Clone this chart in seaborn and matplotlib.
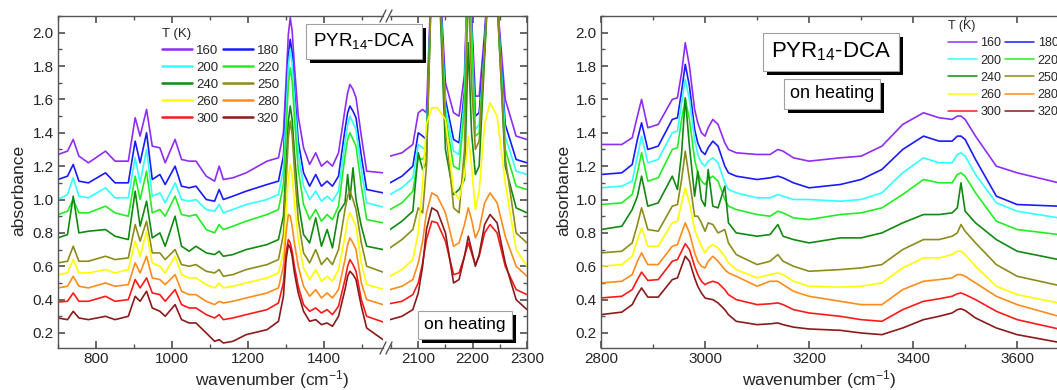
import matplotlib
matplotlib.use("Agg")
import matplotlib.pyplot as plt
from matplotlib.lines import Line2D
from matplotlib.patches import Rectangle
from matplotlib.ticker import MultipleLocator, FormatStrFormatter
from matplotlib.transforms import IdentityTransform
import pandas as pd
import seaborn as sns


TEMPS = ["160", "180", "200", "220", "240", "250", "260", "280", "300", "320"]
COLORS = ["#8f2cf5", "#1a1aff", "#33ffff", "#22ee22", "#118a11",
          "#8c8c1a", "#ffff00", "#ff8c1a", "#ff1a1a", "#8b1a1a"]

# fingerprint region, 700-1555 cm-1
FP_WN = [700, 725, 740, 755, 780, 825, 850, 885, 903, 916, 933, 948,
         968, 982, 1008, 1025, 1045, 1063, 1090, 1112, 1124, 1135, 1160, 1195,
         1250, 1280, 1293, 1300, 1306, 1311, 1316, 1322, 1332, 1346, 1362, 1378,
         1393, 1408, 1422, 1438, 1455, 1462, 1468, 1476, 1484, 1498, 1512, 1555]

FP_160 = [1.27, 1.29, 1.36, 1.26, 1.22, 1.29, 1.23, 1.23, 1.49, 1.38, 1.54, 1.32,
          1.31, 1.22, 1.36, 1.24, 1.23, 1.23, 1.14, 1.11, 1.20, 1.12, 1.13, 1.16,
          1.23, 1.25, 1.40, 1.71, 1.99, 2.09, 2.01, 1.80, 1.50, 1.31, 1.21, 1.28,
          1.20, 1.23, 1.20, 1.28, 1.54, 1.64, 1.69, 1.66, 1.61, 1.38, 1.17, 1.16]
FP_180 = [1.12, 1.14, 1.21, 1.11, 1.10, 1.16, 1.10, 1.10, 1.35, 1.22, 1.40, 1.12,
          1.15, 1.09, 1.20, 1.08, 1.07, 1.08, 1.00, 0.99, 1.06, 1.00, 1.02, 1.05,
          1.09, 1.11, 1.26, 1.58, 1.86, 1.96, 1.88, 1.66, 1.35, 1.16, 1.08, 1.15,
          1.08, 1.11, 1.08, 1.14, 1.42, 1.52, 1.56, 1.53, 1.49, 1.26, 1.06, 1.04]
FP_200 = [1.00, 1.03, 1.13, 1.02, 1.01, 1.07, 1.01, 1.01, 1.25, 1.10, 1.30, 1.02,
          1.04, 0.98, 1.10, 1.00, 0.99, 1.00, 0.94, 0.93, 0.97, 0.92, 0.94, 0.97,
          1.00, 1.03, 1.18, 1.50, 1.80, 1.90, 1.82, 1.60, 1.28, 1.08, 1.00, 1.05,
          0.99, 1.02, 0.99, 1.05, 1.34, 1.45, 1.50, 1.46, 1.42, 1.18, 0.98, 0.955]
FP_220 = [0.91, 0.93, 1.00, 0.92, 0.92, 0.96, 0.92, 0.90, 1.14, 1.00, 1.17, 0.92,
          0.94, 0.90, 1.02, 0.91, 0.90, 0.91, 0.82, 0.80, 0.85, 0.82, 0.84, 0.87,
          0.91, 0.94, 1.09, 1.41, 1.69, 1.79, 1.71, 1.49, 1.18, 0.97, 0.88, 0.94,
          0.87, 0.91, 0.88, 0.96, 1.26, 1.36, 1.40, 1.36, 1.32, 1.08, 0.88, 0.86]
FP_240 = [0.77, 0.79, 1.02, 0.80, 0.81, 0.82, 0.78, 0.76, 1.05, 0.84, 0.99, 0.77,
          0.80, 0.72, 0.90, 0.72, 0.69, 0.72, 0.68, 0.67, 0.69, 0.66, 0.67, 0.70,
          0.73, 0.76, 0.90, 1.20, 1.47, 1.56, 1.48, 1.28, 0.99, 0.79, 0.74, 0.89,
          0.72, 0.82, 0.71, 0.92, 0.98, 1.15, 1.00, 1.19, 1.00, 0.84, 0.72, 0.70]
FP_250 = [0.62, 0.63, 0.72, 0.63, 0.63, 0.66, 0.64, 0.65, 0.85, 0.75, 0.87, 0.68,
          0.68, 0.64, 0.70, 0.61, 0.60, 0.61, 0.57, 0.56, 0.58, 0.54, 0.55, 0.58,
          0.61, 0.64, 0.79, 1.10, 1.37, 1.47, 1.39, 1.18, 0.88, 0.68, 0.62, 0.70,
          0.61, 0.65, 0.61, 0.70, 0.94, 1.02, 1.05, 1.00, 0.94, 0.74, 0.60, 0.565]
FP_260 = [0.55, 0.56, 0.64, 0.56, 0.56, 0.58, 0.56, 0.58, 0.75, 0.66, 0.81, 0.62,
          0.60, 0.56, 0.66, 0.55, 0.53, 0.53, 0.49, 0.47, 0.50, 0.47, 0.48, 0.50,
          0.53, 0.56, 0.68, 0.92, 1.13, 1.21, 1.15, 0.98, 0.76, 0.59, 0.52, 0.58,
          0.51, 0.54, 0.51, 0.58, 0.78, 0.88, 0.92, 0.88, 0.84, 0.62, 0.49, 0.463]
FP_280 = [0.47, 0.48, 0.54, 0.48, 0.47, 0.50, 0.48, 0.49, 0.62, 0.56, 0.66, 0.53,
          0.52, 0.49, 0.55, 0.45, 0.43, 0.43, 0.39, 0.37, 0.39, 0.38, 0.39, 0.41,
          0.44, 0.47, 0.60, 0.80, 0.91, 0.90, 0.84, 0.74, 0.60, 0.48, 0.42, 0.46,
          0.41, 0.44, 0.41, 0.46, 0.64, 0.73, 0.77, 0.74, 0.70, 0.50, 0.40, 0.37]
FP_300 = [0.385, 0.39, 0.44, 0.39, 0.39, 0.42, 0.39, 0.40, 0.52, 0.47, 0.53, 0.44,
          0.43, 0.39, 0.46, 0.37, 0.35, 0.35, 0.31, 0.29, 0.31, 0.28, 0.29, 0.31,
          0.34, 0.38, 0.50, 0.68, 0.76, 0.74, 0.69, 0.60, 0.48, 0.37, 0.33, 0.35,
          0.32, 0.34, 0.31, 0.36, 0.52, 0.60, 0.64, 0.61, 0.57, 0.40, 0.30, 0.266]
FP_320 = [0.29, 0.28, 0.33, 0.29, 0.28, 0.30, 0.28, 0.30, 0.42, 0.39, 0.45, 0.35,
          0.33, 0.30, 0.37, 0.28, 0.26, 0.26, 0.20, 0.15, 0.16, 0.14, 0.15, 0.19,
          0.22, 0.27, 0.42, 0.64, 0.73, 0.71, 0.66, 0.56, 0.44, 0.33, 0.27, 0.28,
          0.25, 0.26, 0.24, 0.30, 0.46, 0.54, 0.57, 0.55, 0.52, 0.36, 0.23, 0.16]

# CN stretching region, 2048-2300 cm-1 (values above 2.1 run off the top)
CN_WN = [2048, 2070, 2090, 2100, 2108, 2115, 2125, 2135, 2150, 2165, 2175,
         2185, 2192, 2198, 2205, 2212, 2222, 2232, 2245, 2260, 2280, 2300]

CN_160 = [1.26, 1.28, 1.33, 1.52, 1.54, 1.52, 2.40, 2.60, 1.70, 1.52, 1.50,
          1.75, 2.50, 2.10, 1.62, 1.62, 2.00, 2.50, 2.20, 1.60, 1.38, 1.36]
CN_180 = [1.10, 1.14, 1.20, 1.40, 1.38, 1.36, 2.40, 2.60, 1.60, 1.36, 1.34,
          1.65, 2.50, 2.05, 1.50, 1.52, 1.95, 2.50, 2.20, 1.45, 1.24, 1.22]
CN_200 = [1.03, 1.07, 1.13, 1.33, 1.31, 1.30, 2.40, 2.60, 1.55, 1.29, 1.27,
          1.60, 2.50, 2.00, 1.42, 1.45, 1.90, 2.50, 2.20, 1.38, 1.17, 1.15]
CN_220 = [0.94, 0.98, 1.05, 1.25, 1.24, 1.28, 2.40, 2.60, 1.50, 1.20, 1.18,
          1.55, 2.50, 2.00, 1.38, 1.40, 1.90, 2.50, 2.20, 1.30, 1.08, 1.06]
CN_240 = [0.82, 0.87, 0.93, 1.28, 1.18, 1.22, 2.40, 2.60, 1.30, 1.03, 1.06,
          1.12, 1.94, 1.40, 1.15, 1.20, 1.85, 2.50, 2.20, 1.20, 0.95, 0.92]
CN_250 = [0.71, 0.76, 0.82, 0.95, 0.92, 1.20, 2.40, 2.60, 1.45, 0.95, 0.92,
          1.30, 2.30, 1.70, 1.30, 1.35, 1.90, 2.50, 2.20, 1.25, 0.80, 0.74]
CN_260 = [0.54, 0.58, 0.64, 0.80, 1.10, 1.45, 1.55, 1.55, 1.48, 1.05, 1.00,
          1.15, 1.38, 1.20, 0.94, 1.05, 1.45, 1.58, 1.50, 1.10, 0.70, 0.60]
CN_280 = [0.46, 0.48, 0.52, 0.62, 0.75, 0.92, 1.04, 1.02, 0.92, 0.72, 0.74,
          0.85, 0.95, 0.88, 0.77, 0.82, 0.98, 1.04, 0.98, 0.78, 0.60, 0.54]
CN_300 = [0.376, 0.39, 0.43, 0.50, 0.62, 0.76, 0.87, 0.86, 0.75, 0.55, 0.56,
          0.66, 0.74, 0.68, 0.61, 0.66, 0.80, 0.85, 0.80, 0.60, 0.46, 0.43]
CN_320 = [0.28, 0.30, 0.34, 0.44, 0.60, 0.82, 0.95, 0.93, 0.80, 0.50, 0.52,
          0.66, 0.78, 0.70, 0.60, 0.67, 0.85, 0.91, 0.86, 0.62, 0.40, 0.34]

# CH / NH stretching region, 2800-3680 cm-1
CH_WN = [2800, 2840, 2860, 2870, 2878, 2890, 2910, 2937, 2947, 2955, 2962, 2970, 2980, 2986,
         2993, 3000, 3006, 3015, 3025, 3038, 3045, 3060, 3100, 3125, 3140, 3150, 3170, 3200,
         3260, 3300, 3340, 3380, 3420, 3450, 3475, 3485, 3492, 3500, 3520, 3560, 3600, 3680]

CH_160 = [1.33, 1.33, 1.37, 1.50, 1.60, 1.43, 1.45, 1.60, 1.61, 1.76, 1.94, 1.80, 1.54, 1.46,
          1.40, 1.38, 1.43, 1.48, 1.45, 1.34, 1.30, 1.28, 1.27, 1.27, 1.30, 1.29, 1.25, 1.23,
          1.25, 1.26, 1.32, 1.45, 1.52, 1.49, 1.48, 1.50, 1.50, 1.48, 1.38, 1.20, 1.16, 1.10]
CH_180 = [1.15, 1.16, 1.21, 1.36, 1.46, 1.30, 1.32, 1.48, 1.49, 1.65, 1.81, 1.68, 1.42, 1.34,
          1.29, 1.27, 1.31, 1.35, 1.32, 1.20, 1.16, 1.14, 1.12, 1.13, 1.14, 1.13, 1.10, 1.07,
          1.09, 1.12, 1.18, 1.30, 1.38, 1.35, 1.35, 1.38, 1.38, 1.36, 1.24, 1.02, 0.97, 0.96]
CH_200 = [1.07, 1.08, 1.11, 1.26, 1.38, 1.22, 1.24, 1.40, 1.41, 1.58, 1.72, 1.60, 1.36, 1.27,
          1.22, 1.20, 1.23, 1.25, 1.22, 1.10, 1.06, 1.04, 1.01, 1.01, 1.03, 1.02, 1.00, 1.00,
          0.99, 1.00, 1.04, 1.16, 1.25, 1.22, 1.22, 1.27, 1.28, 1.26, 1.15, 0.98, 0.93, 0.89]
CH_220 = [0.97, 0.98, 1.03, 1.16, 1.28, 1.11, 1.13, 1.30, 1.31, 1.48, 1.60, 1.48, 1.24, 1.16,
          1.11, 1.09, 1.12, 1.14, 1.11, 1.00, 0.96, 0.94, 0.91, 0.90, 0.93, 0.92, 0.89, 0.88,
          0.91, 0.92, 0.95, 1.03, 1.12, 1.10, 1.10, 1.15, 1.16, 1.14, 1.04, 0.87, 0.82, 0.79]
CH_240 = [0.82, 0.84, 0.94, 1.02, 1.14, 0.96, 0.98, 1.14, 1.06, 1.28, 1.61, 1.32, 1.02, 1.17,
          1.00, 0.96, 1.18, 0.96, 0.95, 1.08, 0.86, 0.80, 0.78, 0.79, 0.85, 0.78, 0.76, 0.74,
          0.77, 0.77, 0.80, 0.86, 0.91, 0.91, 0.92, 0.95, 1.10, 0.93, 0.86, 0.76, 0.69, 0.64]
CH_250 = [0.68, 0.69, 0.74, 0.85, 0.95, 0.82, 0.81, 0.96, 0.97, 1.12, 1.29, 1.12, 0.90, 0.90,
          0.86, 0.81, 0.86, 0.85, 0.80, 0.82, 0.74, 0.67, 0.61, 0.63, 0.67, 0.63, 0.60, 0.57,
          0.58, 0.59, 0.61, 0.70, 0.76, 0.76, 0.78, 0.80, 0.85, 0.81, 0.74, 0.61, 0.54, 0.485]
CH_260 = [0.60, 0.61, 0.66, 0.76, 0.83, 0.72, 0.72, 0.86, 0.87, 0.98, 1.07, 0.98, 0.82, 0.77,
          0.72, 0.68, 0.71, 0.73, 0.71, 0.66, 0.62, 0.58, 0.53, 0.55, 0.56, 0.55, 0.51, 0.48,
          0.475, 0.48, 0.50, 0.59, 0.65, 0.65, 0.67, 0.69, 0.69, 0.67, 0.60, 0.48, 0.43, 0.38]
CH_280 = [0.50, 0.51, 0.55, 0.63, 0.68, 0.61, 0.61, 0.72, 0.73, 0.80, 0.86, 0.80, 0.68, 0.63,
          0.60, 0.59, 0.63, 0.66, 0.63, 0.58, 0.56, 0.54, 0.48, 0.51, 0.51, 0.49, 0.45, 0.42,
          0.39, 0.37, 0.37, 0.46, 0.51, 0.52, 0.53, 0.55, 0.55, 0.54, 0.50, 0.42, 0.37, 0.30]
CH_300 = [0.41, 0.42, 0.46, 0.52, 0.565, 0.515, 0.52, 0.63, 0.64, 0.69, 0.735, 0.70, 0.60, 0.55,
          0.51, 0.49, 0.50, 0.51, 0.50, 0.46, 0.43, 0.40, 0.37, 0.375, 0.38, 0.37, 0.34, 0.32,
          0.30, 0.28, 0.27, 0.34, 0.39, 0.405, 0.42, 0.435, 0.44, 0.43, 0.40, 0.33, 0.28, 0.224]
CH_320 = [0.31, 0.325, 0.37, 0.43, 0.47, 0.415, 0.415, 0.52, 0.53, 0.60, 0.66, 0.63, 0.53, 0.48,
          0.44, 0.41, 0.405, 0.40, 0.38, 0.34, 0.31, 0.27, 0.25, 0.255, 0.26, 0.25, 0.235, 0.224,
          0.216, 0.20, 0.19, 0.23, 0.28, 0.30, 0.32, 0.34, 0.345, 0.335, 0.29, 0.23, 0.19, 0.144]

FP = [FP_160, FP_180, FP_200, FP_220, FP_240, FP_250, FP_260, FP_280, FP_300, FP_320]
CN = [CN_160, CN_180, CN_200, CN_220, CN_240, CN_250, CN_260, CN_280, CN_300, CN_320]
CH = [CH_160, CH_180, CH_200, CH_220, CH_240, CH_250, CH_260, CH_280, CH_300, CH_320]

W, H = 1057, 390
PALETTE = dict(zip(TEMPS, COLORS))
AX_COLOR = "#555555"


def long_frame(wn, series):
    parts = []
    for t, vals in zip(TEMPS, series):
        parts.append(pd.DataFrame({"wn": wn, "absorbance": vals, "T": t}))
    return pd.concat(parts, ignore_index=True)


def draw(ax, wn, series):
    sns.lineplot(
        data=long_frame(wn, series),
        x="wn",
        y="absorbance",
        hue="T",
        hue_order=TEMPS,
        palette=PALETTE,
        estimator=None,
        lw=1.2,
        legend=False,
        ax=ax,
    )
    ax.set_xlabel("")
    ax.set_ylabel("")
    ax.set_ylim(0.11, 2.1)
    ax.yaxis.set_major_locator(MultipleLocator(0.2))
    ax.yaxis.set_minor_locator(MultipleLocator(0.1))
    ax.yaxis.set_major_formatter(FormatStrFormatter("%.1f"))
    for sp in ax.spines.values():
        sp.set_color(AX_COLOR)
        sp.set_linewidth(1.0)
    ax.tick_params(which="both", direction="in", color=AX_COLOR,
                   labelsize=11, top=True, pad=3)
    ax.tick_params(which="major", length=5)
    ax.tick_params(which="minor", length=3)


def px_axes(fig, x0, x1, y0=16, y1=348):
    return fig.add_axes([x0 / W, 1 - y1 / H, (x1 - x0) / W, (y1 - y0) / H])


boxed = []


def label_box(fig, cx, cy, s, size, pad=0.35):
    t = fig.text(cx / W, 1 - cy / H, s, fontsize=size, ha="center", va="center",
                 color="black", zorder=6,
                 bbox=dict(boxstyle=f"square,pad={pad}", fc="white",
                           ec="#a0a0a0", lw=0.8))
    boxed.append(t)


def add_shadows(fig, dx=4, dy=4):
    # black drop shadow under every label box, offset right and down
    fig.canvas.draw()
    renderer = fig.canvas.get_renderer()
    for t in boxed:
        bb = t.get_bbox_patch().get_window_extent(renderer)
        fig.add_artist(Rectangle((bb.x0 + dx, bb.y0 - dy), bb.width, bb.height,
                                 transform=IdentityTransform(), fc="black",
                                 ec="none", zorder=5))


def t_legend(ax, fig, x, y, lw, size, spacing):
    order = TEMPS[0::2] + TEMPS[1::2]
    handles = [Line2D([], [], color=PALETTE[t], lw=lw) for t in order]
    ax.legend(handles, order, title="T (K)", ncol=2, frameon=False,
              loc="upper left", bbox_to_anchor=(x / W, 1 - y / H),
              bbox_transform=fig.transFigure, borderpad=0, borderaxespad=0,
              fontsize=size, title_fontsize=size, alignment="left",
              handlelength=2.3, handletextpad=0.3, columnspacing=0.3,
              labelspacing=spacing)


sns.set_theme(style="ticks")
plt.rcParams["font.family"] = ["Liberation Sans", "DejaVu Sans"]
plt.rcParams["mathtext.fontset"] = "custom"
plt.rcParams["mathtext.rm"] = "Liberation Sans"
plt.rcParams["mathtext.it"] = "Liberation Sans:italic"
plt.rcParams["mathtext.default"] = "regular"

fig = plt.figure(figsize=(W / 100, H / 100), dpi=100)

# left panel, two broken segments
ax1 = px_axes(fig, 58, 383)
draw(ax1, FP_WN, FP)
ax1.set_xlim(700, 1555)
ax1.xaxis.set_major_locator(MultipleLocator(200))
ax1.xaxis.set_minor_locator(MultipleLocator(100))
ax1.spines["right"].set_visible(False)
ax1.tick_params(which="both", right=False)

ax2 = px_axes(fig, 390, 527)
draw(ax2, CN_WN, CN)
ax2.set_xlim(2048, 2300)
ax2.xaxis.set_major_locator(MultipleLocator(100))
ax2.xaxis.set_minor_locator(MultipleLocator(50))
ax2.spines["left"].set_visible(False)
ax2.tick_params(which="both", left=False, right=True, labelleft=False)

# right panel (runs past the figure edge, as in the original)
ax3 = px_axes(fig, 601, 1078)
draw(ax3, CH_WN, CH)
ax3.set_xlim(2800, 3717)
ax3.xaxis.set_major_locator(MultipleLocator(200))
ax3.xaxis.set_minor_locator(MultipleLocator(100))
ax3.spines["right"].set_visible(False)
ax3.tick_params(which="both", right=False)

# axis break marks
for yb in (16, 348):
    for xb in (380, 386):
        fig.add_artist(Line2D([xb / W, (xb + 6) / W],
                              [1 - (yb + 6) / H, 1 - (yb - 6) / H],
                              color=AX_COLOR, lw=1.0))

t_legend(ax1, fig, 162, 28, 1.8, 9.5, 0.36)
t_legend(ax3, fig, 948, 20, 1.1, 9, 0.42)

label_box(fig, 364, 41, "PYR$_{14}$-DCA", 13.5, pad=0.4)
label_box(fig, 465, 325, "on heating", 12.5)
label_box(fig, 831, 52, "PYR$_{14}$-DCA", 16)
label_box(fig, 832, 94, "on heating", 13)

for xl in (272, 819):
    fig.text(xl / W, 1 - 380 / H, "wavenumber (cm$^{-1}$)", ha="center",
             va="center", fontsize=12.5)
for yl in (19, 564):
    fig.text(yl / W, 1 - 190 / H, "absorbance", rotation=90, ha="center",
             va="center", fontsize=12.5)

add_shadows(fig)

fig.savefig("out.png", dpi=100)
